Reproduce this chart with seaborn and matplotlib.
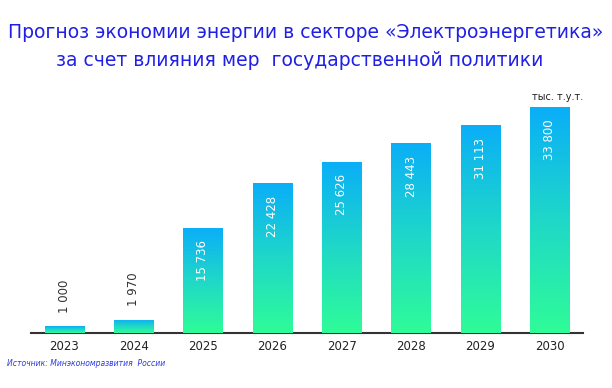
import numpy as np
import pandas as pd
import matplotlib.pyplot as plt
import seaborn as sns
from matplotlib.colors import LinearSegmentedColormap

# Data
years = ["2023", "2024", "2025", "2026", "2027", "2028", "2029", "2030"]
savings = [1000, 1970, 15736, 22428, 25626, 28443, 31113, 33800]
value_labels = ["1 000", "1 970", "15 736", "22 428", "25 626", "28 443", "31 113", "33 800"]

df = pd.DataFrame({"year": years, "value": savings})

sns.set_style("white")
plt.rcParams['font.family'] = ['DejaVu Sans']

fig = plt.figure(figsize=(6.12, 3.88), dpi=100)
ax = fig.add_axes([31 / 612, 55 / 388, (583 - 31) / 612, 243 / 388])

sns.barplot(data=df, x="year", y="value", ax=ax, width=0.563, color="#1fd0d0",
            saturation=1)

# vertical gradient, blue on top -> green at bottom, per bar
cmap = LinearSegmentedColormap.from_list("bg", ["#2ffc98", "#1fd8c8", "#0aaef8"])
grad = np.linspace(0, 1, 256).reshape(-1, 1)
for p in ax.patches:
    x0, y0 = p.get_x(), p.get_y()
    w, h = p.get_width(), p.get_height()
    im = ax.imshow(grad, cmap=cmap, origin="lower", aspect="auto",
                   extent=[x0, x0 + w, y0, y0 + h], zorder=3)
    im.set_clip_path(p)
    p.set_alpha(0)

ax.set_xlim(-0.48, 7.48)
ax.set_ylim(0, 36343)

# value labels
for i, (v, lab) in enumerate(zip(savings, value_labels)):
    if v < 5000:
        ax.text(i, v + 2000, lab, rotation=90, ha="center", va="bottom",
                fontsize=8.5, color="#333333", zorder=5)
    else:
        ax.text(i, v - 1900, lab, rotation=90, ha="center", va="top",
                fontsize=8.5, color="white", zorder=5)

ax.text(7.12, 34500, "тыс. т.у.т.", ha="center", va="bottom", fontsize=7,
        color="#222222")

sns.despine(ax=ax, left=True)
ax.spines["bottom"].set_color("#333333")
ax.spines["bottom"].set_linewidth(1.5)
ax.set_yticks([])
ax.set_xlabel("")
ax.set_ylabel("")
ax.tick_params(axis="x", length=0, labelsize=8.5, labelcolor="#222222", pad=5)

fig.text(0.5, 1 - 33 / 388, "Прогноз экономии энергии в секторе «Электроэнергетика»",
         ha="center", va="center", fontsize=13.5, color="#1f1fe6")
fig.text(0.49, 1 - 61 / 388, "за счет влияния мер  государственной политики",
         ha="center", va="center", fontsize=13.5, color="#1f1fe6")
fig.text(7 / 612, 1 - 364 / 388, "Источник: Минэкономразвития  России",
         ha="left", va="center", fontsize=5.5, style="italic", color="#2a3ae0")

fig.savefig("out.png", dpi=100)
